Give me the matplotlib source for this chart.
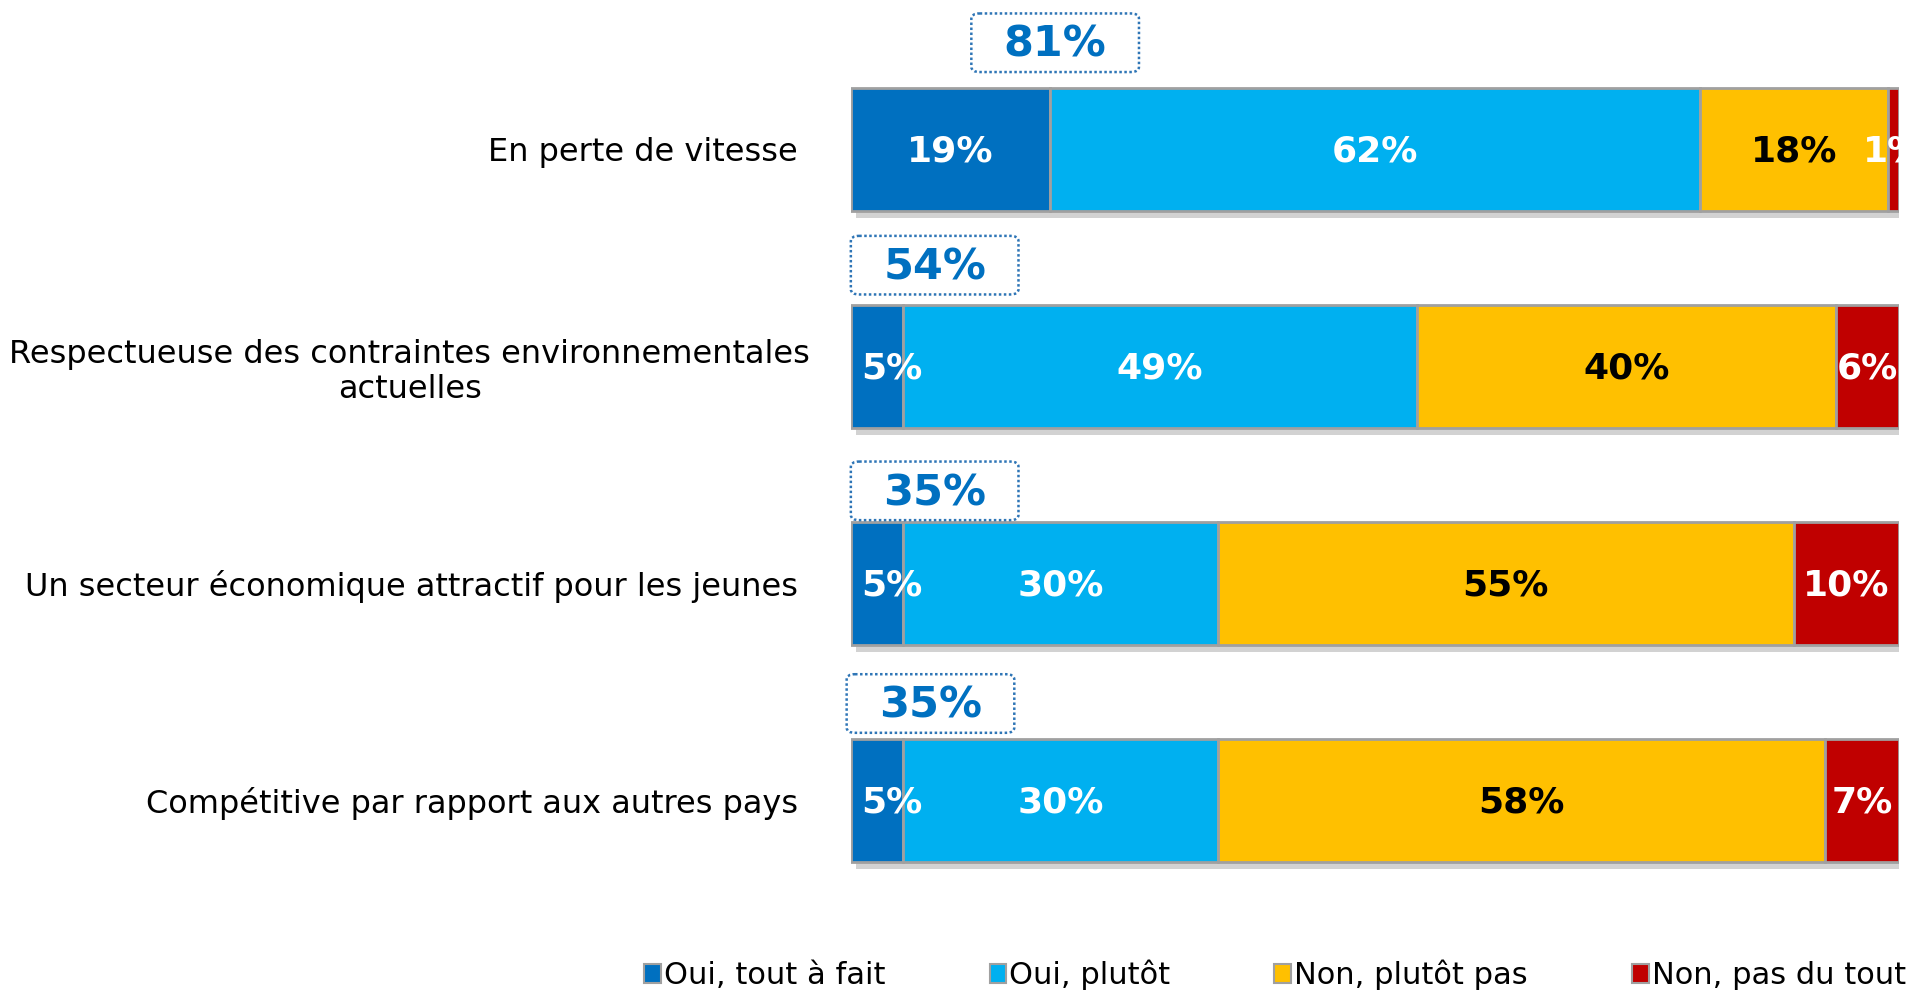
import matplotlib.pyplot as plt
import matplotlib.patheffects as pe
import matplotlib.transforms as mtransforms
from matplotlib.patches import FancyBboxPatch, Patch

plt.rcParams['font.family'] = ['DejaVu Sans']

categories = [
    "En perte de vitesse",
    "Respectueuse des contraintes environnementales\nactuelles",
    "Un secteur économique attractif pour les jeunes",
    "Compétitive par rapport aux autres pays",
]
series_names = ["Oui, tout à fait", "Oui, plutôt", "Non, plutôt pas", "Non, pas du tout"]
oui_tout_a_fait = [19, 5, 5, 5]
oui_plutot = [62, 49, 30, 30]
non_plutot_pas = [18, 40, 55, 58]
non_pas_du_tout = [1, 6, 10, 7]

colors = ["#0070C0", "#00B0F0", "#FFC000", "#C00000"]
text_colors = ["white", "white", "black", "white"]

# layout of the "total oui" boxes (x centre in %, y offset from bar centre)
box_x = [19.5, 8.0, 8.0, 7.6]
box_dy = [-0.49, -0.465, -0.425, -0.445]

fig = plt.figure(figsize=(19.12, 9.93), dpi=100)
ax = fig.add_axes([0.445, 0.0765, 0.548, 0.9235])

series = [oui_tout_a_fait, oui_plutot, non_plutot_pas, non_pas_du_tout]
ypos = list(range(len(categories)))
shadow = [pe.SimplePatchShadow(offset=(4, -5), shadow_rgbFace="#909090", alpha=0.4), pe.Normal()]

left = [0] * len(categories)
for k, (vals, col, tcol, name) in enumerate(zip(series, colors, text_colors, series_names)):
    bars = ax.barh(ypos, vals, left=left, height=0.567, color=col,
                   edgecolor="#A0A0A0", linewidth=2, label=name)
    for b in bars:
        b.set_path_effects(shadow)
    for y, v, l in zip(ypos, vals, left):
        if k == 0 and v < 8:
            # narrow first segment: label starts just inside the bar
            ax.text(l + 1, y + 0.01, f"{v}%", ha="left", va="center",
                    color=tcol, fontsize=26, fontweight="bold")
        else:
            ax.text(l + v / 2, y + 0.01, f"{v}%", ha="center", va="center",
                    color=tcol, fontsize=26, fontweight="bold", clip_on=False)
    left = [l + v for l, v in zip(left, vals)]

# total "oui" boxes
for y, a, b, bx, dy in zip(ypos, oui_tout_a_fait, oui_plutot, box_x, box_dy):
    w, h = 16.0, 0.27
    box = FancyBboxPatch((bx - w / 2, y + dy - h / 2), w, h,
                         boxstyle="round,pad=0.0,rounding_size=0.8",
                         facecolor="white", edgecolor="#2E75B6",
                         linestyle=(0, (1, 1)), linewidth=1.8,
                         mutation_aspect=0.03, clip_on=False)
    ax.add_patch(box)
    ax.text(bx, y + dy + 0.01, f"{a + b}%", ha="center", va="center",
            color="#0070C0", fontsize=31, fontweight="bold")

ax.set_xlim(0, 100)
ax.set_ylim(3.539, -0.687)
ax.set_yticks(ypos)
ax.set_yticklabels(categories, fontsize=23, multialignment="center")
ax.tick_params(axis="y", length=0, pad=38)
ax.tick_params(axis="x", bottom=False, labelbottom=False)
for s in ax.spines.values():
    s.set_visible(False)

# the long two-line label sits a little further right
lbl = ax.get_yticklabels()[1]
lbl.set_transform(lbl.get_transform() + mtransforms.ScaledTranslation(0.12, 0, fig.dpi_scale_trans))

handles = [Patch(facecolor=c, edgecolor="#A0A0A0", linewidth=1.5) for c in colors]
fig.legend(handles, series_names, loc="center left", bbox_to_anchor=(0.337, 0.018),
           ncol=4, frameon=False, fontsize=22, handlelength=0.55, handleheight=0.55,
           handletextpad=0.1, columnspacing=3.4, borderaxespad=0, borderpad=0)

fig.savefig("out.png", dpi=100)
